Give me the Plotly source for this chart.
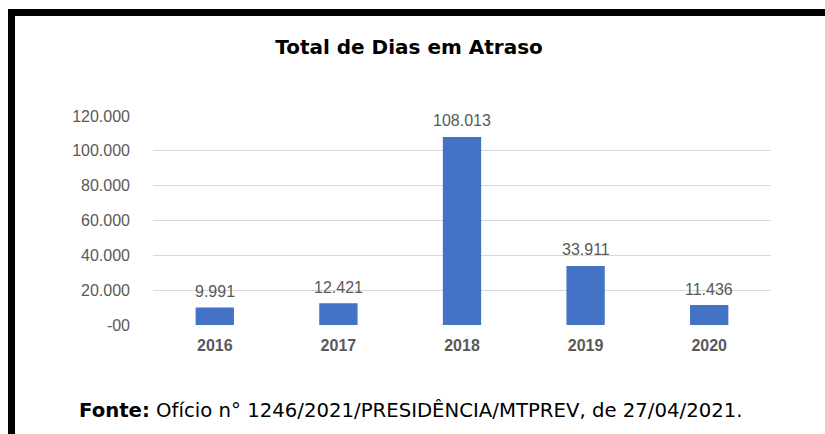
import plotly.graph_objects as go

categories = ["2016", "2017", "2018", "2019", "2020"]
values = [9991, 12421, 108013, 33911, 11436]
tick_vals = [0, 20000, 40000, 60000, 80000, 100000, 120000]
tick_text = ["-00", "20.000", "40.000", "60.000", "80.000", "100.000", "120.000"]
title_text = "Total de Dias em Atraso"
source_text = "<b>Fonte:</b> Ofício n° 1246/2021/PRESIDÊNCIA/MTPREV, de 27/04/2021."

labels = [f"{v:,}".replace(",", ".") for v in values]

W, H = 825, 434
L, R, T, B = 153, 771, 116, 325  # plot area in pixels
FONT = "Liberation Sans, Arial, sans-serif"
WIDE = "DejaVu Sans, Liberation Sans, sans-serif"


def px_x(x):
    return (x - L) / (R - L)


def px_y(y):
    return (B - y) / (B - T)


fig = go.Figure(
    go.Bar(
        x=categories,
        y=values,
        marker=dict(color="#4472C4", line=dict(width=0)),
        width=0.31,
        hoverinfo="x+y",
    )
)

annotations = [
    dict(
        x=i, y=v, xref="x", yref="y", text=t, showarrow=False,
        xanchor="center", yanchor="middle", yshift=16,
        font=dict(family=FONT, size=16, color="#595959"),
    )
    for i, (v, t) in enumerate(zip(values, labels))
]
annotations.append(
    dict(
        text=source_text,
        xref="paper",
        yref="paper",
        x=px_x(77),
        y=px_y(410),
        xanchor="left",
        yanchor="middle",
        showarrow=False,
        font=dict(family=WIDE, size=19.7, color="#000000"),
    )
)

fig.update_layout(
    width=W,
    height=H,
    margin=dict(l=L, r=W - R, t=T, b=H - B),
    paper_bgcolor="white",
    plot_bgcolor="white",
    showlegend=False,
    title=dict(
        text="<b>" + title_text + "</b>",
        x=409 / W,
        xref="container",
        xanchor="center",
        y=1 - 47 / H,
        yref="container",
        yanchor="middle",
        font=dict(family=WIDE, size=20, color="#000000"),
    ),
    xaxis=dict(
        type="category",
        categoryorder="array",
        categoryarray=categories,
        range=[-0.5, len(categories) - 0.5],
        showgrid=False,
        showline=False,
        zeroline=False,
        ticks="",
        tickfont=dict(family=FONT, size=16, color="#595959", weight="bold"),
        ticklabelstandoff=9,
    ),
    yaxis=dict(
        range=[0, 120000],
        tickvals=tick_vals,
        ticktext=tick_text,
        showgrid=True,
        gridcolor="#D9D9D9",
        gridwidth=1,
        zeroline=False,
        showline=False,
        ticks="",
        tickfont=dict(family=FONT, size=16, color="#595959"),
        ticklabelstandoff=22,
    ),
    annotations=annotations,
    shapes=[
        dict(
            type="rect", xref="paper", yref="paper",
            x0=px_x(8), x1=px_x(15), y0=px_y(9), y1=px_y(440),
            fillcolor="black", line=dict(width=0), layer="above",
        ),
        dict(
            type="rect", xref="paper", yref="paper",
            x0=px_x(8), x1=px_x(830), y0=px_y(9), y1=px_y(16),
            fillcolor="black", line=dict(width=0), layer="above",
        ),
    ],
)

fig.write_html("out.html")
